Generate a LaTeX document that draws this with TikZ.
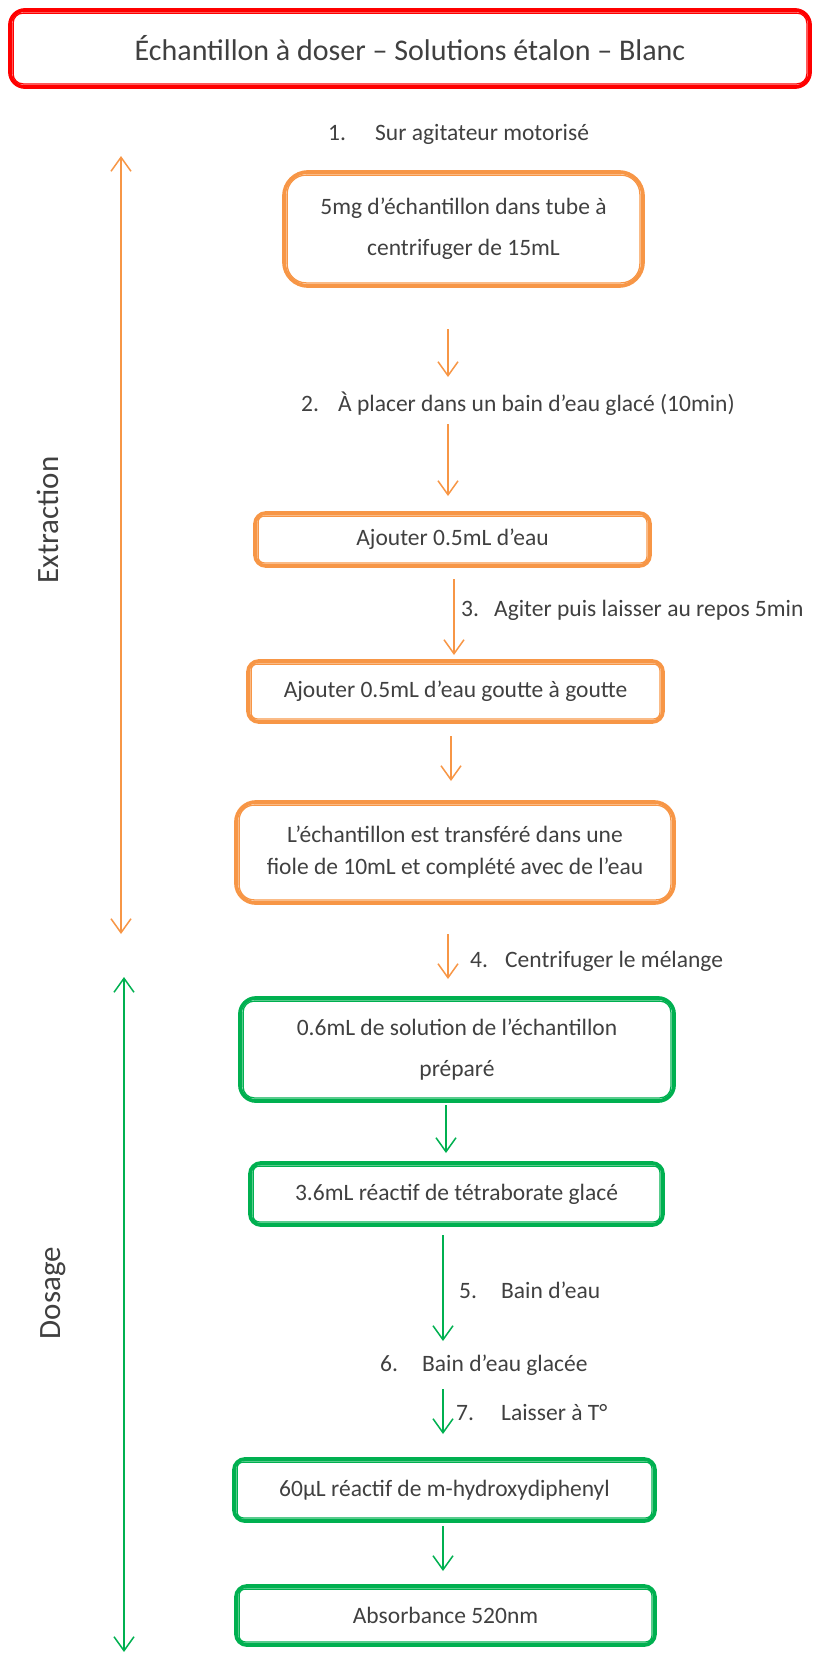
\documentclass[tikz,border=0pt]{standalone}
\usepackage{fontspec}
\setmainfont{Carlito}
\usetikzlibrary{arrows.meta}
\definecolor{org}{HTML}{F79646}
\definecolor{grn}{HTML}{00B050}
\definecolor{redc}{HTML}{FF0000}
\definecolor{txt}{HTML}{404040}
\begin{document}
\begin{tikzpicture}[x=1pt,y=-1pt,
  font=\fontsize{23.5}{28}\selectfont, text=txt,
  dbox/.style 2 args={draw=#1, line width=3.8pt, rounded corners=#2, align=center, inner sep=0pt},
  thinline/.style={line width=1.3pt},
  arr/.style={-{Straight Barb[length=14pt,width=20pt]}, line width=1.5pt},
  darr/.style={{Straight Barb[length=14pt,width=20pt]}-{Straight Barb[length=14pt,width=20pt]}, line width=1.5pt},
  lbl/.style={anchor=west, inner sep=0pt},
  side/.style={rotate=90, font=\fontsize{31}{36}\selectfont, inner sep=0pt}]
\useasboundingbox (0,0) rectangle (814,1655);

% title
\node[dbox={redc}{15pt}, minimum width=800pt, minimum height=77pt, font=\fontsize{30}{36}\selectfont] (title) at (410,48.5) {Échantillon à doser – Solutions étalon – Blanc};
\draw[thinline, redc, rounded corners=10pt] ([xshift=5pt,yshift=-5pt]title.north west) rectangle ([xshift=-5pt,yshift=5pt]title.south east);

% side labels
\node[side] (ext) at (48,520) {Extraction};
\node[side] (dos) at (53,1293) {Dosage};
\coordinate (e1) at (121,156);
\coordinate (e2) at (121,934);
\coordinate (d1) at (124,977);
\coordinate (d2) at (124,1652);
\draw[darr, org] (e1) -- (e2);
\draw[darr, grn] (d1) -- (d2);

% step labels
\node[lbl] (l1) at (328,134) {\makebox[47pt][l]{1.}Sur agitateur motorisé};
\node[lbl] (l2) at (301,404) {\makebox[37pt][l]{2.}À placer dans un bain d’eau glacé (10min)};
\node[lbl] (l3) at (461,610) {\makebox[33pt][l]{3.}Agiter puis laisser au repos 5min};
\node[lbl] (l4) at (470,961) {\makebox[35pt][l]{4.}Centrifuger le mélange};
\node[lbl] (l5) at (459,1290) {\makebox[42pt][l]{5.}Bain d’eau};
\node[lbl] (l6) at (380,1365) {\makebox[42pt][l]{6.}Bain d’eau glacée};
\node[lbl] (l7) at (456,1412) {\makebox[45pt][l]{7.}Laisser à T°};

% boxes
\node[dbox={org}{24pt}, minimum width=359pt, minimum height=114pt, font=\fontsize{23.5}{41}\selectfont] (b1) at (463.5,229) {5mg d’échantillon dans tube à\\centrifuger de 15mL};
\node[dbox={org}{11pt}, minimum width=395pt, minimum height=53pt] (b2) at (452.5,539.5) {Ajouter 0.5mL d’eau};
\node[dbox={org}{11pt}, minimum width=415pt, minimum height=61pt] (b3) at (455.5,691.5) {Ajouter 0.5mL d’eau goutte à goutte};
\node[dbox={org}{20pt}, minimum width=438pt, minimum height=101pt, font=\fontsize{23.5}{32}\selectfont] (b4) at (455,852.5) {L’échantillon est transféré dans une\\fiole de 10mL et complété avec de l’eau};
\node[dbox={grn}{16pt}, minimum width=434pt, minimum height=103pt, font=\fontsize{23.5}{41}\selectfont] (b5) at (457,1049.5) {0.6mL de solution de l’échantillon\\préparé};
\node[dbox={grn}{11pt}, minimum width=413pt, minimum height=62pt] (b6) at (456.5,1194) {3.6mL réactif de tétraborate glacé};
\node[dbox={grn}{11pt}, minimum width=421pt, minimum height=62pt] (b7) at (444.5,1490) {60µL réactif de m-hydroxydiphenyl};
\node[dbox={grn}{11pt}, minimum width=419pt, minimum height=59pt] (b8) at (445.5,1615.5) {Absorbance 520nm};

% inner thin lines of the double borders
\draw[thinline, org, rounded corners=19pt] ([xshift=5pt,yshift=-5pt]b1.north west) rectangle ([xshift=-5pt,yshift=5pt]b1.south east);
\draw[thinline, org, rounded corners=6pt] ([xshift=5pt,yshift=-5pt]b2.north west) rectangle ([xshift=-5pt,yshift=5pt]b2.south east);
\draw[thinline, org, rounded corners=6pt] ([xshift=5pt,yshift=-5pt]b3.north west) rectangle ([xshift=-5pt,yshift=5pt]b3.south east);
\draw[thinline, org, rounded corners=15pt] ([xshift=5pt,yshift=-5pt]b4.north west) rectangle ([xshift=-5pt,yshift=5pt]b4.south east);
\draw[thinline, grn, rounded corners=11pt] ([xshift=5pt,yshift=-5pt]b5.north west) rectangle ([xshift=-5pt,yshift=5pt]b5.south east);
\draw[thinline, grn, rounded corners=6pt] ([xshift=5pt,yshift=-5pt]b6.north west) rectangle ([xshift=-5pt,yshift=5pt]b6.south east);
\draw[thinline, grn, rounded corners=6pt] ([xshift=5pt,yshift=-5pt]b7.north west) rectangle ([xshift=-5pt,yshift=5pt]b7.south east);
\draw[thinline, grn, rounded corners=6pt] ([xshift=5pt,yshift=-5pt]b8.north west) rectangle ([xshift=-5pt,yshift=5pt]b8.south east);

% connectors
\coordinate (a1s) at (448,329);  \coordinate (a1e) at (448,377);
\coordinate (a2s) at (448,424);  \coordinate (a2e) at (448,496);
\coordinate (a3s) at (454,579);  \coordinate (a3e) at (454,655);
\coordinate (a4s) at (451,736);  \coordinate (a4e) at (451,781);
\coordinate (a5s) at (448,934);  \coordinate (a5e) at (448,979);
\coordinate (a6s) at (446,1105); \coordinate (a6e) at (446,1153);
\coordinate (a7s) at (443,1235); \coordinate (a7e) at (443,1341);
\coordinate (a8s) at (443,1389); \coordinate (a8e) at (443,1434);
\coordinate (a9s) at (443,1526); \coordinate (a9e) at (443,1571);
\draw[arr, org] (a1s) -- (a1e);
\draw[arr, org] (a2s) -- (a2e);
\draw[arr, org] (a3s) -- (a3e);
\draw[arr, org] (a4s) -- (a4e);
\draw[arr, org] (a5s) -- (a5e);
\draw[arr, grn] (a6s) -- (a6e);
\draw[arr, grn] (a7s) -- (a7e);
\draw[arr, grn] (a8s) -- (a8e);
\draw[arr, grn] (a9s) -- (a9e);
\end{tikzpicture}
\end{document}
